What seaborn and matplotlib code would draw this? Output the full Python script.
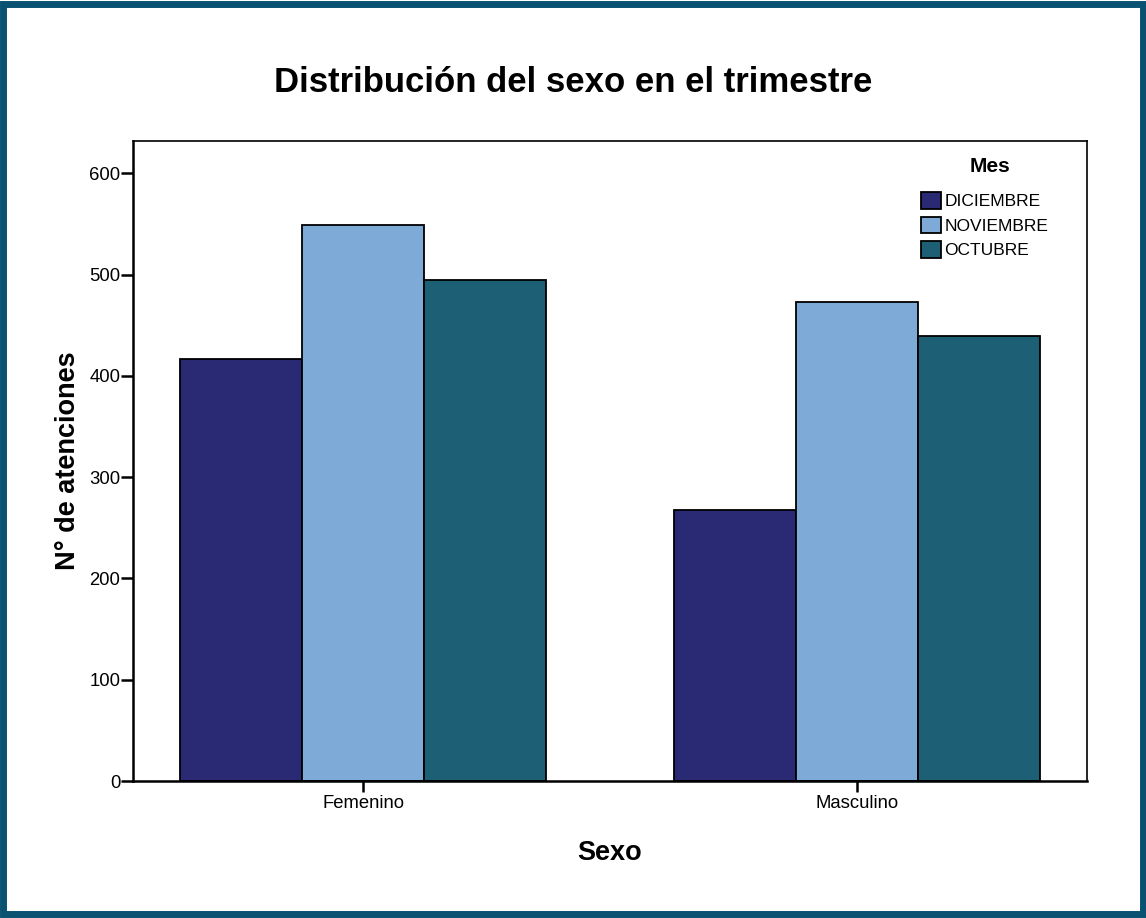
import pandas as pd
import matplotlib
matplotlib.use("Agg")
import matplotlib.pyplot as plt
from matplotlib.patches import Rectangle
import seaborn as sns

# Data
sexo = ["Femenino", "Masculino"]
meses = ["DICIEMBRE", "NOVIEMBRE", "OCTUBRE"]
diciembre = [417, 268]
noviembre = [549, 473]
octubre = [495, 439]

colores = ["#292A73", "#7DAAD6", "#1D5F75"]

def main():
    df = pd.DataFrame({
        "Sexo": sexo * 3,
        "Mes": [meses[0]] * 2 + [meses[1]] * 2 + [meses[2]] * 2,
        "Atenciones": diciembre + noviembre + octubre,
    })

    sns.set_theme(style="white")
    plt.rcParams["font.family"] = ["Liberation Sans", "DejaVu Sans"]
    plt.rcParams["text.color"] = "black"
    plt.rcParams["axes.labelcolor"] = "black"

    fig = plt.figure(figsize=(11.46, 9.18), dpi=100)
    ax = fig.add_axes([133 / 1146, 1 - 781 / 918, (1087 - 133) / 1146, (781 - 141) / 918])

    sns.barplot(data=df, x="Sexo", y="Atenciones", hue="Mes", hue_order=meses,
                palette=colores, width=0.741, edgecolor="black", linewidth=1.3,
                saturation=1, ax=ax)

    ax.set_xlim(-0.466, 1.466)
    ax.set_ylim(0, 632)
    ax.set_yticks([0, 100, 200, 300, 400, 500, 600])
    ax.tick_params(axis="both", which="major", bottom=True, left=True,
                   direction="out", width=1.8, labelsize=13.3,
                   colors="black", labelcolor="black")
    ax.tick_params(axis="x", length=8, pad=2)
    ax.tick_params(axis="y", length=8.6, pad=0.5)
    for s in ax.spines.values():
        s.set_color("black")
        s.set_linewidth(1.2)
    ax.spines["left"].set_linewidth(1.8)
    ax.spines["bottom"].set_linewidth(1.8)

    ax.set_xlabel("Sexo", fontsize=19.5, fontweight="bold", labelpad=20)
    ax.set_ylabel("N° de atenciones", fontsize=19.5, fontweight="bold", labelpad=6)

    fig.text(0.5, 1 - 83 / 918, "Distribución del sexo en el trimestre",
             ha="center", va="center", fontsize=25, fontweight="bold")

    # legend title drawn separately, like the original
    ax.text((990 - 133) / 954, (781 - 167) / 640, "Mes", transform=ax.transAxes,
            ha="center", va="center", fontsize=15, fontweight="bold")
    leg = ax.legend(loc="upper left", bbox_to_anchor=((921 - 133) / 954, (781 - 192) / 640),
                    frameon=False, fontsize=12.5, borderpad=0, borderaxespad=0,
                    handlelength=1.15, handleheight=1.1, handletextpad=0.2,
                    labelspacing=0.42)
    for h in leg.legend_handles:
        h.set_edgecolor("black")
        h.set_linewidth(1.3)
    for t in leg.get_texts():
        t.set_color("black")

    # Outer teal frame
    fig.patches.append(Rectangle((0.003, 0.004), 0.994, 0.992, transform=fig.transFigure,
                                 fill=False, edgecolor="#0A5272", linewidth=5))

    fig.savefig("out.png", dpi=100, facecolor="white")
    plt.close(fig)

if __name__ == "__main__":
    main()
